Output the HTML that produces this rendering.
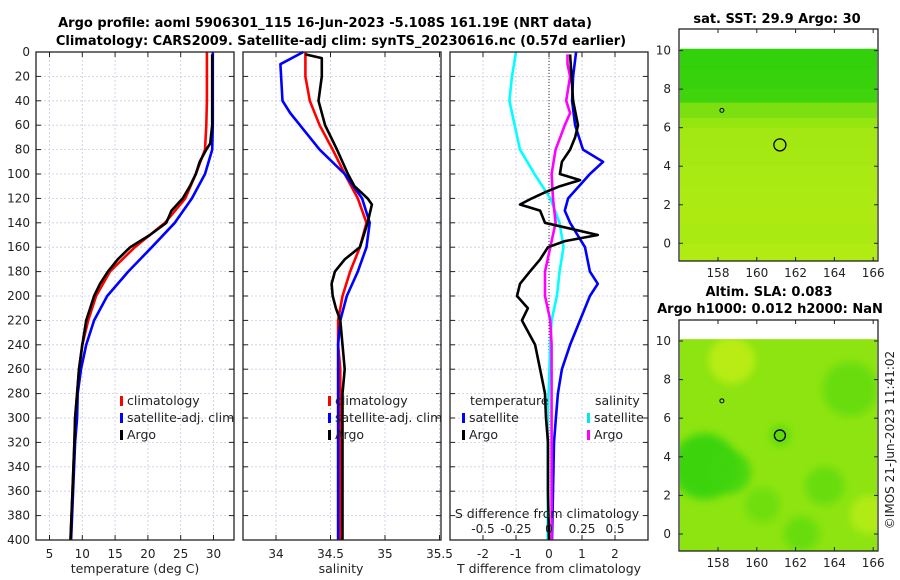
<!DOCTYPE html>
<html><head><meta charset="utf-8"><style>
html,body{margin:0;padding:0;background:#fff;}
svg{display:block;font-family:"DejaVu Sans","Liberation Sans",sans-serif;}
</style></head><body>
<svg id="fig" width="900" height="580" viewBox="0 0 900 580">
<text x="325" y="27" text-anchor="middle" font-size="13" font-weight="bold">Argo profile: aoml 5906301_115 16-Jun-2023 -5.108S 161.19E (NRT data)</text>
<text x="341" y="45" text-anchor="middle" font-size="13" font-weight="bold">Climatology: CARS2009. Satellite-adj clim: synTS_20230616.nc (0.57d earlier)</text>
<text x="777" y="23" text-anchor="middle" font-size="13" font-weight="bold">sat. SST: 29.9 Argo: 30</text>
<text x="769" y="296" text-anchor="middle" font-size="13" font-weight="bold">Altim. SLA: 0.083</text>
<text x="770" y="313" text-anchor="middle" font-size="13" font-weight="bold">Argo h1000: 0.012 h2000: NaN</text>
<text transform="translate(894,440) rotate(-90)" text-anchor="middle" font-size="12" fill="#222">©IMOS 21-Jun-2023 11:41:02</text>
<defs><filter id="blur" x="-50%" y="-50%" width="200%" height="200%"><feGaussianBlur stdDeviation="4"/></filter></defs>
<g id="plots"></g>
</svg>
<script>
// ---------- data ----------
const depthTs = [0,20,40,60,80,100,120,140,160,180,200,220,240,260,280,300,320,360,400];
const tempClim = [29.0,29.0,29.0,28.9,28.7,27.3,25.7,22.6,18.0,14.2,12.1,10.9,10.0,9.5,9.2,8.9,8.8,8.5,8.2];
const tempSat = [29.9,29.9,29.9,29.9,29.8,28.7,26.7,24.1,20.6,17.0,13.8,11.8,10.6,9.8,9.3,9.2,8.9,8.6,8.3];
const depthArgoT = [2,20,40,60,75,80,90,100,110,120,130,140,150,160,170,180,190,200,210,220,240,260,280,300,320,360,400];
const tempArgo = [29.8,29.8,29.8,29.8,29.5,28.9,27.9,27.3,26.4,25.3,23.6,22.8,20.3,17.3,15.4,13.9,12.7,11.8,11.2,10.6,10.0,9.5,9.2,8.9,8.8,8.5,8.2];
const salClim = [34.27,34.27,34.31,34.40,34.52,34.63,34.75,34.83,34.77,34.68,34.61,34.57,34.57,34.59,34.59,34.59,34.59,34.59,34.59];
const depthSalSat = [0,10,40,50,60,80,100,120,140,160,180,200,220,240,300,400];
const salSat = [34.25,34.04,34.06,34.13,34.22,34.40,34.63,34.79,34.86,34.83,34.75,34.65,34.59,34.57,34.57,34.57];
const depthSalArgo = [2,5,20,40,60,80,100,110,120,125,140,160,170,180,190,200,210,220,240,260,280,300,400];
const salArgo = [34.27,34.42,34.42,34.39,34.45,34.56,34.66,34.72,34.84,34.88,34.84,34.77,34.63,34.54,34.51,34.52,34.55,34.59,34.61,34.63,34.61,34.61,34.61];
const depthTdSat = [0,20,40,60,80,90,100,120,130,140,160,180,190,200,220,240,260,280,300,320,360,400];
const tdiffSat = [0.82,0.73,0.70,0.79,1.03,1.64,1.24,0.58,0.48,0.64,1.09,1.24,1.48,1.24,0.94,0.64,0.39,0.27,0.21,0.15,0.12,0.09];
const depthTdArgo = [2,40,60,70,80,90,100,105,110,115,120,125,130,140,150,155,160,170,180,190,200,210,220,240,260,280,300,320,360,400];
const tdiffArgo = [0.64,0.73,0.88,0.79,0.64,0.39,0.33,0.94,0.33,-0.12,-0.52,-0.88,-0.27,-0.12,1.48,0.48,-0.03,-0.27,-0.58,-0.88,-0.97,-0.64,-0.82,-0.42,-0.27,-0.12,-0.09,-0.03,-0.03,0];
const depthSdSat = [0,20,40,60,80,100,110,120,140,160,180,200,220,240,300,400];
const sdiffSat = [-0.25,-0.28,-0.30,-0.26,-0.22,-0.11,-0.05,0.01,0.08,0.11,0.08,0.06,0.02,0.01,-0.01,-0.01];
const depthSdArgo = [2,10,20,40,50,60,80,100,120,140,160,180,200,220,240,280,400];
const sdiffArgo = [0.14,0.14,0.16,0.13,0.16,0.12,0.05,0.02,0.03,0.05,0.01,-0.03,-0.03,0.01,0.02,0.02,0.02];
const depthTicks = [0,20,40,60,80,100,120,140,160,180,200,220,240,260,280,300,320,340,360,380,400];
const tempTicks = [5,10,15,20,25,30];
const salTicks = [34,34.5,35,35.5];
const tdTicks = [-2,-1,0,1,2];
const sdTicks = [-0.5,-0.25,0,0.25,0.5];
// SST map: latitude bands (lat top) and greenness 0..1
const sstBandLat = [10.1,9,8,7.3,6.5,6,5,4,3,2,1,0];
const sstBandVal = [0.12,0.15,0.2,0.55,0.7,0.78,0.8,0.82,0.83,0.84,0.82,0.86];
const slaBase = 0.65;
const slaBlobLon = [157.3,158.6,161.2,164.8,163.5,158.7,162.3,160.3,165.8];
const slaBlobLat = [3.5,3.2,5.1,7.5,2.5,9.0,0.0,1.5,1.0];
const slaBlobR = [1.7,1.1,0.5,1.4,1.0,1.2,0.9,0.9,1.0];
const slaBlobVal = [0.1,0.2,0.3,0.4,0.4,0.95,0.4,0.45,0.9];

const NS='http://www.w3.org/2000/svg';
const root=document.getElementById('plots');
function mk(tag,attrs,parent){const e=document.createElementNS(NS,tag);for(const k in attrs)e.setAttribute(k,attrs[k]);(parent||root).appendChild(e);return e;}
const Y0=52, PXM=1.22;
const yD=d=>Y0+d*PXM;
const xT=t=>49.5+(t-5)*6.56;
const xS=s=>276+(s-34)*109;
const xTd=t=>549+t*33;
const xSd=s=>549+s*132;

function panel(name,x0,x1,xticks,xf,fmt,labelY){
  const g=mk('g',{});
  
  
  for(const d of depthTicks){const l=mk('line',{x1:x0,x2:x1,y1:yD(d),y2:yD(d),stroke:'#c9c9e6','stroke-dasharray':'2,2','stroke-width':0.8},g);
    
    mk('line',{x1:x0,x2:x0+5,y1:yD(d),y2:yD(d),stroke:'#222'},g);mk('line',{x1:x1-5,x2:x1,y1:yD(d),y2:yD(d),stroke:'#222'},g);}
  for(const t of xticks){const x=xf(t);
    if(x>x0+1&&x<x1-1){const l=mk('line',{x1:x,x2:x,y1:Y0,y2:yD(400),stroke:'#c9c9e6','stroke-dasharray':'2,2','stroke-width':0.8},g);
    }
    mk('line',{x1:x,x2:x,y1:yD(400),y2:yD(400)-5,stroke:'#222'},g);mk('line',{x1:x,x2:x,y1:Y0,y2:Y0+5,stroke:'#222'},g);
    if(labelY){const tx=mk('text',{x:x,y:labelY,'text-anchor':'middle','font-size':12,fill:'#222'},g);tx.textContent=fmt(t);
    }}
  return g;
}
function frame(name,x0,x1){const r=mk('rect',{x:x0,y:Y0,width:x1-x0,height:yD(400)-Y0,fill:'none',stroke:'#222','stroke-width':1.3});
  }
function line(name,ds,vs,xf,color,w){const pts=ds.map((d,i)=>xf(vs[i]).toFixed(1)+','+yD(d).toFixed(1)).join(' ');
  const p=mk('polyline',{points:pts,fill:'none',stroke:color,'stroke-width':w||2.6,'stroke-linejoin':'round'});
  }
function txt(name,x,y,s,opts){const t=mk('text',Object.assign({x:x,y:y,'font-size':12,fill:'#222'},opts||{}));t.textContent=s;
  return t;}
function legend(name,x,y,color,label){const r=mk('rect',{x:x,y:y-9,width:3,height:10,fill:color});
  
  txt(name,x+7,y,label,{'font-size':12.5});}

for(const d of depthTicks){txt('y-tick-label',30,yD(d)+4,String(d),{'text-anchor':'end','font-size':12});}

panel('temperature-panel',36,234,tempTicks,xT,String,558);
line('temp-climatology',depthTs,tempClim,xT,'#ff0000');
line('temp-satellite-adj',depthTs,tempSat,xT,'#0000ff');
line('temp-argo',depthArgoT,tempArgo,xT,'#000000');
frame('temperature-frame',36,234);
txt('x-axis-title-temperature',135,573,'temperature (deg C)',{'text-anchor':'middle','font-size':12.5});
legend('legend-climatology',120,405,'#ff0000','climatology');
legend('legend-satellite-adj',120,422,'#0000ff','satellite-adj. clim');
legend('legend-argo',120,439,'#000000','Argo');

panel('salinity-panel',243,441,salTicks,xS,String,558);
line('sal-climatology',depthTs,salClim,xS,'#ff0000');
line('sal-satellite-adj',depthSalSat,salSat,xS,'#0000ff');
line('sal-argo',depthSalArgo,salArgo,xS,'#000000');
frame('salinity-frame',243,441);
txt('x-axis-title-salinity',341,573,'salinity',{'text-anchor':'middle','font-size':12.5});
legend('legend-climatology-2',328,405,'#ff0000','climatology');
legend('legend-satellite-adj-2',328,422,'#0000ff','satellite-adj. clim');
legend('legend-argo-2',328,439,'#000000','Argo');

panel('difference-panel',450,648,tdTicks,xTd,String,558);
const zl=mk('line',{x1:xTd(0),x2:xTd(0),y1:Y0,y2:yD(400),stroke:'#333','stroke-dasharray':'1,2'});

line('tdiff-satellite',depthTdSat,tdiffSat,xTd,'#0000ff');
line('sdiff-satellite',depthSdSat,sdiffSat,xSd,'#00ffff');
line('sdiff-argo',depthSdArgo,sdiffArgo,xSd,'#ff00ff');
line('tdiff-argo',depthTdArgo,tdiffArgo,xTd,'#000000');
frame('difference-frame',450,648);
txt('x-axis-title-tdiff',549,573,'T difference from climatology',{'text-anchor':'middle','font-size':12.5});
txt('s-axis-title',547,518,'S difference from climatology',{'text-anchor':'middle','font-size':12.5});
for(const s of sdTicks){txt('s-tick-label',xSd(s),533,String(s),{'text-anchor':'middle','font-size':12});}
txt('legend-temperature-header',470,405,'temperature',{'font-size':12.5});
legend('legend-t-satellite',462,422,'#0000ff','satellite');
legend('legend-t-argo',462,439,'#000000','Argo');
txt('legend-salinity-header',595,405,'salinity',{'font-size':12.5});
legend('legend-s-satellite',587,422,'#00e8e8','satellite');
legend('legend-s-argo',587,439,'#ff00ff','Argo');

// maps
const lonX=l=>718+(l-158)*19.4;
function cmap(v){const a=[30,205,10],b=[200,240,20];return 'rgb('+a.map((c,i)=>Math.round(c+(b[i]-c)*v)).join(',')+')';}
function mapAxes(name,latY,top,bottom){
  for(const la of [0,2,4,6,8,10]){txt('map-lat-label',671,latY(la)+4,String(la),{'text-anchor':'end','font-size':12});
    mk('line',{x1:679,x2:683,y1:latY(la),y2:latY(la),stroke:'#222'});mk('line',{x1:874,x2:878,y1:latY(la),y2:latY(la),stroke:'#222'});}
  for(const lo of [158,160,162,164,166]){txt('map-lon-label',lonX(lo),bottom+16,String(lo),{'text-anchor':'middle','font-size':12});
    mk('line',{x1:lonX(lo),x2:lonX(lo),y1:bottom,y2:bottom-4,stroke:'#222'});mk('line',{x1:lonX(lo),x2:lonX(lo),y1:top,y2:top+4,stroke:'#222'});}
  const r=mk('rect',{x:679,y:top,width:199,height:bottom-top,fill:'none',stroke:'#222','stroke-width':1.3});
  
}
const lat1=la=>243.3-la*19.27;
const cl1=mk('clipPath',{id:'c1'});mk('rect',{x:680,y:lat1(10.1),width:197,height:lat1(-0.9)-lat1(10.1)},cl1);
const gm1=mk('g',{'clip-path':'url(#c1)'});

for(let i=0;i<sstBandLat.length;i++){const top=lat1(sstBandLat[i]);const bot=i+1<sstBandLat.length?lat1(sstBandLat[i+1]):lat1(-0.9);
  const r=mk('rect',{x:680,y:top,width:198,height:bot-top+0.5,fill:cmap(sstBandVal[i])},gm1);
  }
mapAxes('sst-map-frame',lat1,29,261);
const c1=mk('circle',{cx:lonX(161.19),cy:lat1(5.108),r:6,fill:'none',stroke:'#000','stroke-width':1.3});

mk('circle',{cx:lonX(158.2),cy:lat1(6.9),r:2,fill:'none',stroke:'#000'});

const lat2=la=>534-la*19.3;
const cl2=mk('clipPath',{id:'c2'});mk('rect',{x:680,y:lat2(10.1),width:197,height:lat2(-0.9)-lat2(10.1)},cl2);
const gm2=mk('g',{'clip-path':'url(#c2)'});

const bg=mk('rect',{x:680,y:lat2(10.1),width:198,height:lat2(-0.9)-lat2(10.1),fill:cmap(slaBase)},gm2);

for(let i=0;i<slaBlobLon.length;i++){const e=mk('ellipse',{cx:lonX(slaBlobLon[i]),cy:lat2(slaBlobLat[i]),rx:slaBlobR[i]*19.4,ry:slaBlobR[i]*19.3,fill:cmap(slaBlobVal[i]),opacity:0.85,filter:'url(#blur)'},gm2);
  }
mapAxes('sla-map-frame',lat2,320,551);
const c2=mk('circle',{cx:lonX(161.19),cy:lat2(5.108),r:5.5,fill:'none',stroke:'#000','stroke-width':1.3});

mk('circle',{cx:lonX(158.2),cy:lat2(6.9),r:2,fill:'none',stroke:'#000'});
</script>
</body></html>
